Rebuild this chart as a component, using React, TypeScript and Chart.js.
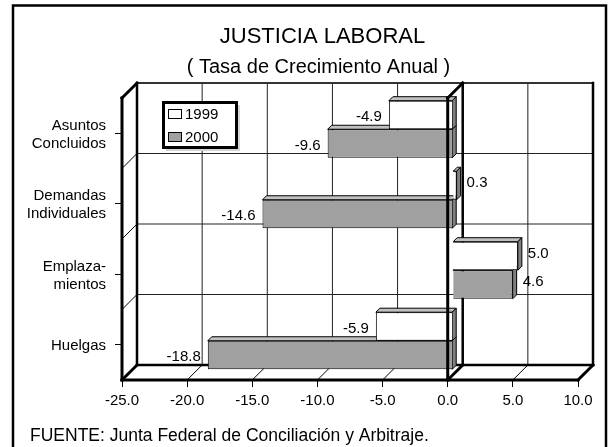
import React, { useEffect, useRef } from "react";
import { Chart, registerables } from "chart.js";

Chart.register(...registerables);

const categories = [["Asuntos", "Concluidos"], ["Demandas", "Individuales"], ["Emplaza-", "mientos"], ["Huelgas"]];
const seriesNames = ["1999", "2000"];
const values1999 = [-4.9, 0.3, 5.0, -5.9];
const values2000 = [-9.6, -14.6, 4.6, -18.8];
const xMin = -25;
const xMax = 10;
const xStep = 5;
const titleText = "JUSTICIA LABORAL";
const subtitleText = "( Tasa de Crecimiento Anual )";
const sourceText = "FUENTE: Junta Federal de Conciliación y Arbitraje.";

const FONT = "Arial, 'Liberation Sans', sans-serif";
const TICK_PX = 15;
const DEPTH = 15;
const BAR_SHIFT_X = 5;
const BAR_SHIFT_Y = 4;
const BAR_DEPTH = 4;
const faceColors = ["#ffffff", "#a0a0a0"];

function poly(ctx: CanvasRenderingContext2D, pts: number[][], fill: string | null, stroke = "#000", lw = 1) {
  ctx.beginPath();
  pts.forEach((p, i) => (i ? ctx.lineTo(p[0], p[1]) : ctx.moveTo(p[0], p[1])));
  ctx.closePath();
  if (fill) {
    ctx.fillStyle = fill;
    ctx.fill();
  }
  ctx.strokeStyle = stroke;
  ctx.lineWidth = lw;
  ctx.stroke();
}

function line(ctx: CanvasRenderingContext2D, x1: number, y1: number, x2: number, y2: number, lw = 1, color = "#000") {
  ctx.beginPath();
  ctx.moveTo(x1, y1);
  ctx.lineTo(x2, y2);
  ctx.strokeStyle = color;
  ctx.lineWidth = lw;
  ctx.lineCap = "square";
  ctx.stroke();
  ctx.lineCap = "butt";
}

const frame3d = {
  id: "frame3d",
  beforeDatasetsDraw(chart: any) {
    const { ctx, chartArea: a, scales } = chart;
    const x = scales.x;
    ctx.save();
    for (let v = xMin; v <= xMax; v += xStep) {
      const px = x.getPixelForValue(v);
      line(ctx, px + DEPTH, a.top - DEPTH, px + DEPTH, a.bottom - DEPTH, 1, "#222");
      line(ctx, px, a.bottom, px + DEPTH, a.bottom - DEPTH, 1);
    }
    const band = (a.bottom - a.top) / categories.length;
    for (let i = 1; i < categories.length; i++) {
      const py = a.top + band * i;
      line(ctx, a.left + DEPTH, py - DEPTH, a.right + DEPTH, py - DEPTH, 1, "#222");
      line(ctx, a.left, py, a.left + DEPTH, py - DEPTH, 1);
    }
    const zero = x.getPixelForValue(0);
    line(ctx, a.left + DEPTH, a.top - DEPTH, a.right + DEPTH, a.top - DEPTH, 2, "#333");
    line(ctx, a.left + DEPTH, a.top - DEPTH, a.left + DEPTH, a.bottom - DEPTH, 2.5);
    line(ctx, a.right + DEPTH, a.top - DEPTH, a.right + DEPTH, a.bottom - DEPTH, 2.5);
    line(ctx, a.left + DEPTH, a.bottom - DEPTH, a.right + DEPTH, a.bottom - DEPTH, 2.5);
    line(ctx, zero + DEPTH, a.top - DEPTH, zero + DEPTH, a.bottom - DEPTH, 2.5);
    ctx.restore();
  },
  beforeDatasetDraw(chart: any, args: any) {
    const { ctx } = chart;
    ctx.save();
    ctx.translate(BAR_SHIFT_X, -BAR_SHIFT_Y);
    const meta = chart.getDatasetMeta(args.index);
    meta.data.forEach((bar: any) => {
      const l = Math.min(bar.x, bar.base);
      const r = Math.max(bar.x, bar.base);
      const t = bar.y - bar.height / 2;
      const b = bar.y + bar.height / 2;
      const d = BAR_DEPTH;
      poly(ctx, [[l, t], [l + d, t - d], [r + d, t - d], [r, t]], "#c0c0c0");
      poly(ctx, [[r, t], [r + d, t - d], [r + d, b - d], [r, b]], "#808080");
    });
  },
  afterDatasetDraw(chart: any) {
    chart.ctx.restore();
  },
  afterDatasetsDraw(chart: any) {
    const { ctx, chartArea: a, scales } = chart;
    const zero = scales.x.getPixelForValue(0);
    ctx.save();
    line(ctx, a.left, a.top, a.left, a.bottom, 3);
    line(ctx, a.left, a.bottom, a.right, a.bottom, 3);
    line(ctx, zero, a.top, zero, a.bottom, 3);
    line(ctx, a.left, a.top, a.left + DEPTH, a.top - DEPTH, 3);
    line(ctx, a.left, a.bottom, a.left + DEPTH, a.bottom - DEPTH, 3);
    line(ctx, a.right, a.bottom, a.right + DEPTH, a.bottom - DEPTH, 3);
    line(ctx, zero, a.top, zero + DEPTH, a.top - DEPTH, 3);
    line(ctx, zero, a.bottom, zero + DEPTH, a.bottom - DEPTH, 3);

    // value labels
    ctx.font = `${TICK_PX}px ${FONT}`;
    ctx.fillStyle = "#000";
    ctx.textBaseline = "middle";
    chart.data.datasets.forEach((ds: any, di: number) => {
      chart.getDatasetMeta(di).data.forEach((bar: any, i: number) => {
        const v = ds.data[i];
        if (v < 0) {
          ctx.textAlign = "right";
          ctx.fillText(v.toFixed(1), bar.x + BAR_SHIFT_X - 7, bar.y - 2);
        } else {
          ctx.textAlign = "left";
          ctx.fillText(v.toFixed(1), bar.x + BAR_SHIFT_X + 10, bar.y - 6.5);
        }
      });
    });

    // title, subtitle, source
    ctx.textBaseline = "alphabetic";
    ctx.textAlign = "center";
    ctx.font = `22px ${FONT}`;
    ctx.fillText(titleText, 322.5, 43);
    ctx.font = `20px ${FONT}`;
    ctx.fillText(subtitleText, 318.5, 73);
    ctx.textAlign = "left";
    ctx.font = `17.5px ${FONT}`;
    ctx.fillText(sourceText, 30, 441);

    // legend
    ctx.font = `${TICK_PX}px ${FONT}`;
    ctx.textBaseline = "middle";
    ctx.fillStyle = "#d4d4d4";
    ctx.fillRect(166, 105, 74, 46);
    ctx.fillStyle = "#fff";
    ctx.fillRect(163.5, 102.5, 73, 45);
    ctx.strokeStyle = "#000";
    ctx.lineWidth = 3;
    ctx.strokeRect(163.5, 102.5, 73, 45);
    seriesNames.forEach((name, i) => {
      const top = 109.5 + i * 23;
      ctx.fillStyle = faceColors[i];
      ctx.fillRect(168.5, top, 13, 9);
      ctx.strokeStyle = "#000";
      ctx.lineWidth = 1;
      ctx.strokeRect(168.5, top, 13, 9);
      ctx.fillStyle = "#000";
      ctx.textAlign = "left";
      ctx.fillText(name, 185, top + 5);
    });

    // outer frame, open at the bottom
    ctx.beginPath();
    ctx.moveTo(13, 447);
    ctx.lineTo(13, 5.5);
    ctx.lineTo(606, 5.5);
    ctx.lineTo(606, 447);
    ctx.strokeStyle = "#000";
    ctx.lineWidth = 2.5;
    ctx.stroke();
    ctx.restore();
  },
};

export default function App() {
  const ref = useRef<HTMLCanvasElement>(null);
  useEffect(() => {
    if (!ref.current) return;
    const chart = new Chart(ref.current, {
      type: "bar",
      data: {
        labels: categories as any,
        datasets: [
          { label: seriesNames[0], data: values1999, backgroundColor: faceColors[0], borderColor: "#000", borderWidth: 1, clip: false as any },
          { label: seriesNames[1], data: values2000, backgroundColor: faceColors[1], borderColor: "#000", borderWidth: 1, clip: false as any },
        ],
      },
      plugins: [frame3d as any],
      options: {
        indexAxis: "y",
        animation: false,
        responsive: false,
        layout: { padding: { top: 98, right: 30, left: 0, bottom: 0 } },
        datasets: { bar: { categoryPercentage: 0.81, barPercentage: 1 } },
        plugins: { legend: { display: false }, title: { display: false }, tooltip: { enabled: false } },
        scales: {
          x: {
            type: "linear",
            min: xMin,
            max: xMax,
            afterFit: (s: any) => { s.height = 67; },
            ticks: {
              stepSize: xStep,
              color: "#000",
              maxRotation: 0,
              padding: 5,
              font: { family: FONT, size: TICK_PX },
              callback: (v: any) => Number(v).toFixed(1),
            },
            grid: { drawOnChartArea: false, drawTicks: true, tickLength: 7, tickColor: "#000", color: "#000" },
            border: { display: false },
          },
          y: {
            type: "category",
            afterFit: (s: any) => { s.width = 122; },
            ticks: {
              color: "#000",
              padding: 9,
              autoSkip: false,
              labelOffset: 1.5,
              font: { family: FONT, size: TICK_PX, lineHeight: 1.2 },
            },
            grid: { drawOnChartArea: false, drawTicks: true, tickLength: 7, tickColor: "#000", color: "#000", offset: false },
            border: { display: false },
          },
        },
      } as any,
    });
    return () => chart.destroy();
  }, []);
  return (
    <canvas
      ref={ref}
      width={608}
      height={447}
      style={{ position: "fixed", left: 0, top: 0, width: 608, height: 447, background: "#fff" }}
    />
  );
}
